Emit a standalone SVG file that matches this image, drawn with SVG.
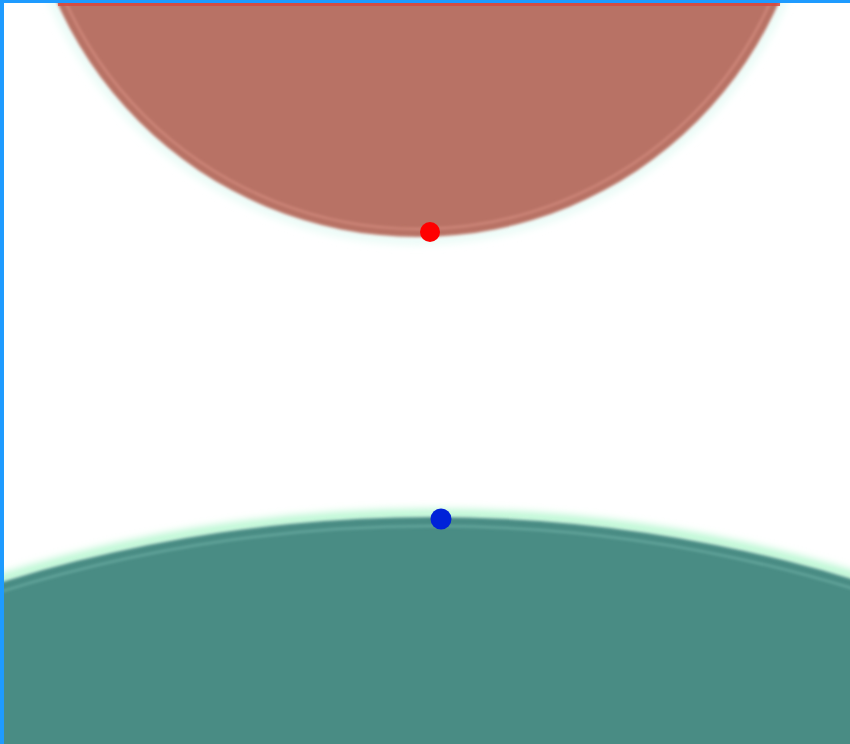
<svg xmlns="http://www.w3.org/2000/svg" width="850" height="744" viewBox="0 0 850 744">
  <defs>
    <filter id="soft" x="-10%" y="-10%" width="120%" height="120%">
      <feGaussianBlur stdDeviation="1.5"/>
    </filter>
    <filter id="glow" x="-10%" y="-10%" width="120%" height="120%">
      <feGaussianBlur stdDeviation="4"/>
    </filter>
    <filter id="edge" x="-10%" y="-10%" width="120%" height="120%">
      <feGaussianBlur stdDeviation="1.8"/>
    </filter>
    <clipPath id="page"><rect x="4" y="3" width="846" height="741"/></clipPath>
  </defs>
  <style>
    .redfill { fill: #b87265; filter: url(#edge); }
    .redinner { fill: none; stroke: #d48c7f; stroke-width: 2; filter: url(#soft); }
    .redglow { fill: none; stroke: #e6fbf5; stroke-width: 8; filter: url(#glow); }
    .greenfill { fill: #4a8c84; filter: url(#edge); }
    .greeninner { fill: none; stroke: #6aaca2; stroke-width: 2; filter: url(#soft); }
    .greenglow { fill: none; stroke: #a9f5c8; stroke-width: 8; filter: url(#glow); }
    .dot { stroke: none; }
  </style>
  <rect x="0" y="0" width="850" height="744" fill="#ffffff"/>
  <g clip-path="url(#page)">
    <g id="red-circle">
      <circle class="redglow" cx="418" cy="-158" r="398"/>
      <circle class="redfill" cx="418" cy="-158" r="395"/>
      <circle class="redinner" cx="418" cy="-158" r="387"/>
      <line x1="58" y1="4.5" x2="780" y2="4.5" stroke="#d9463c" stroke-width="3" opacity="0.8"/>
    </g>
    <g id="green-circle">
      <circle class="greenglow" cx="432" cy="1972" r="1458"/>
      <circle class="greenfill" cx="432" cy="1972" r="1455"/>
      <circle class="greeninner" cx="432" cy="1972" r="1446"/>
    </g>
    <g id="red-point">
      <circle class="dot" cx="430" cy="232" r="10" fill="#ff0000"/>
    </g>
    <g id="blue-point">
      <circle class="dot" cx="441" cy="519" r="10.5" fill="#0022d8"/>
    </g>
  </g>
  <g id="frame">
    <rect x="0" y="0" width="4" height="744" fill="#1e9bff"/>
    <rect x="0" y="0" width="850" height="3" fill="#1e9bff"/>
  </g>
</svg>
